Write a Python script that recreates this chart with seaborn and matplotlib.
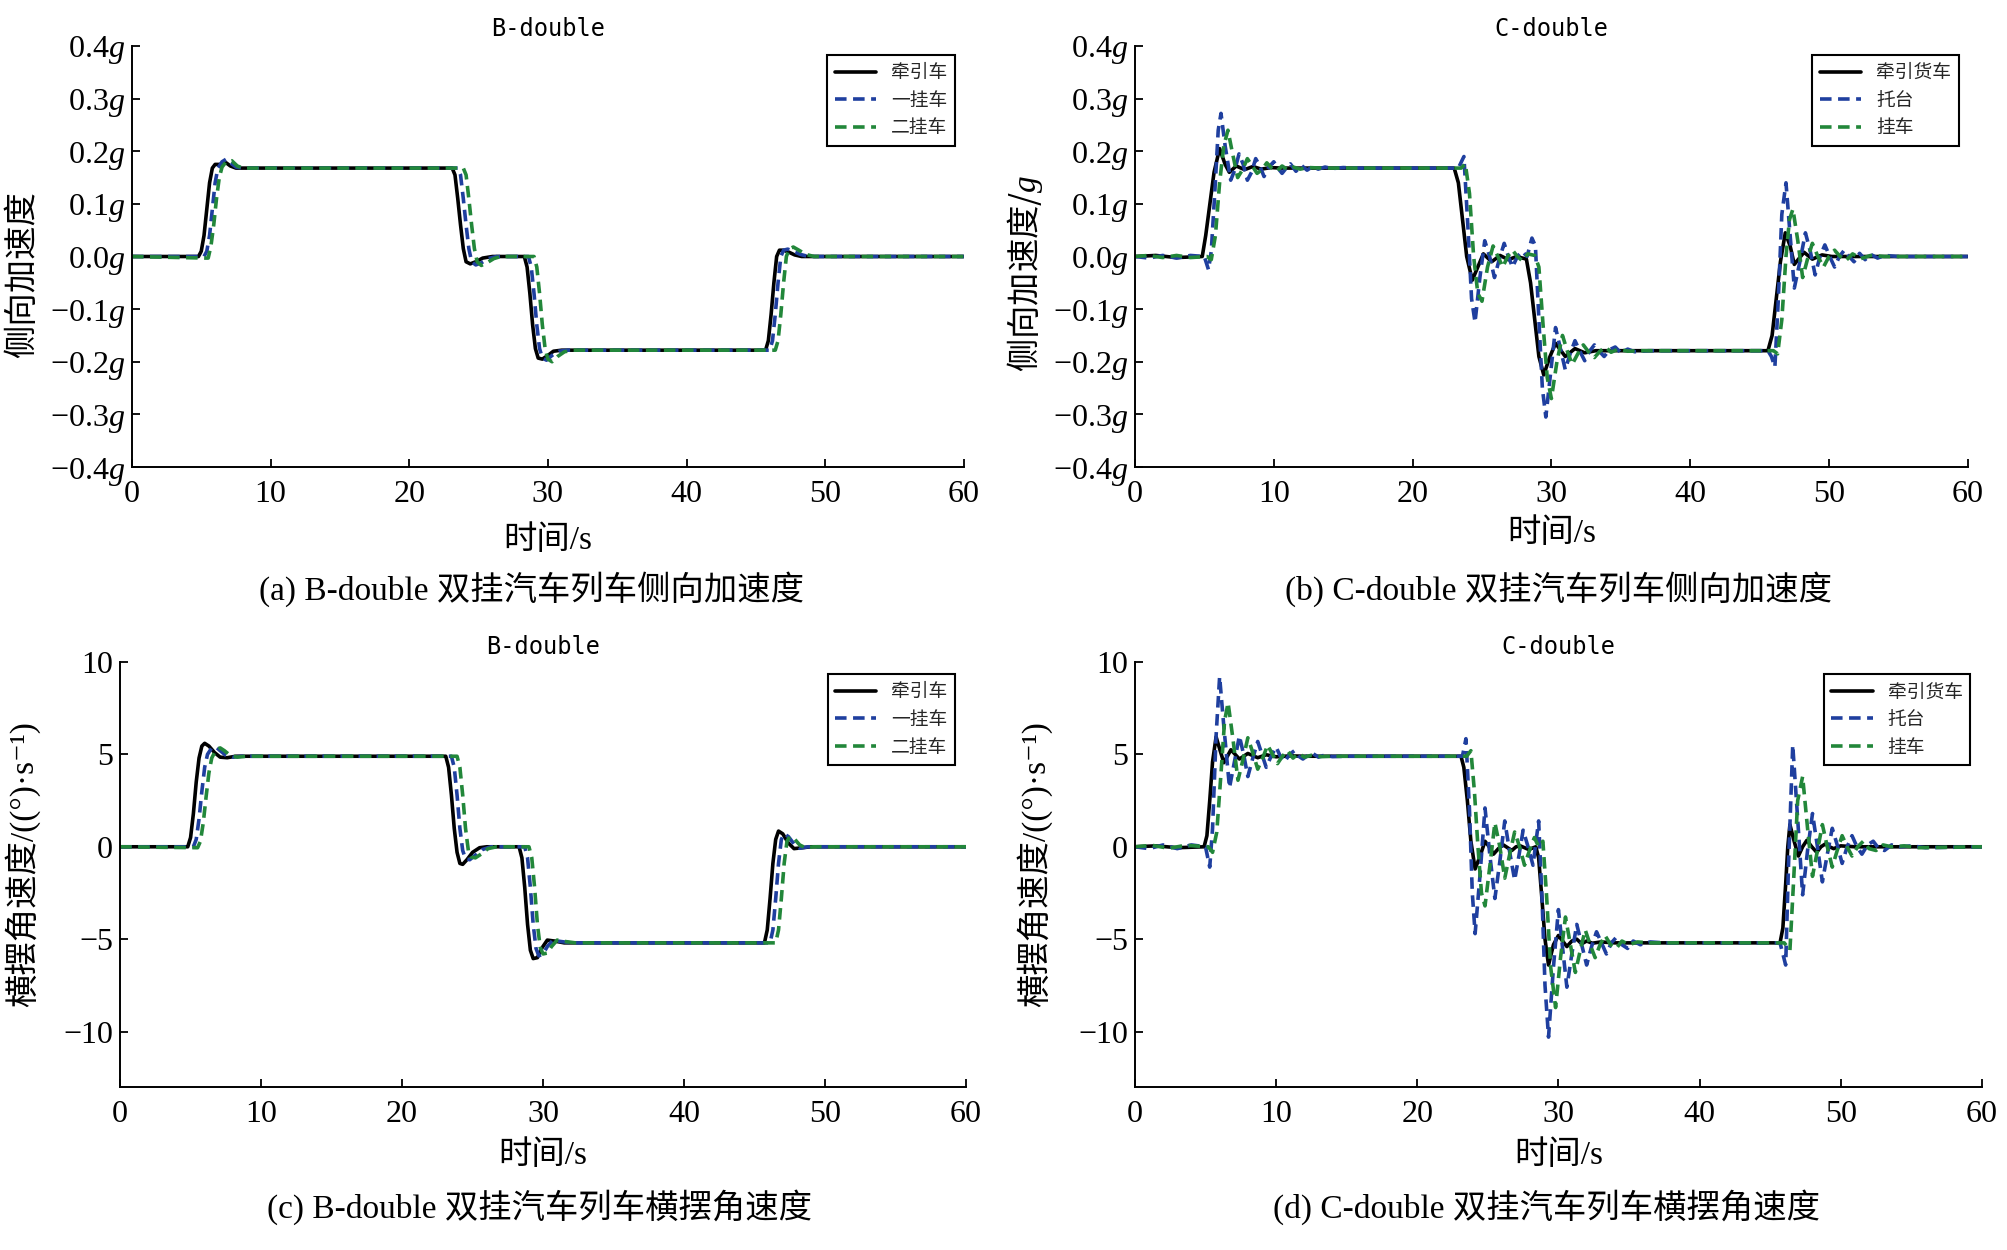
import matplotlib
matplotlib.use("Agg")
import matplotlib.pyplot as plt
import pandas as pd
import seaborn as sns
from matplotlib.font_manager import FontProperties

# ---------------- data (time s, value) ----------------
time_ticks = [0, 10, 20, 30, 40, 50, 60]
acc_ticks = [-0.4, -0.3, -0.2, -0.1, 0.0, 0.1, 0.2, 0.3, 0.4]
yaw_ticks = [-10, -5, 0, 5, 10]

labels_B = ["牵引车", "一挂车", "二挂车"]
labels_C = ["牵引货车", "托台", "挂车"]

# (a) B-double lateral acceleration [g]
A_truck = [(0,0),(4.8,0),(5.0,0.01),(5.2,0.04),(5.4,0.09),(5.6,0.14),(5.8,0.168),(6.0,0.175),(6.4,0.175),(6.8,0.178),(7.1,0.172),(7.5,0.168),(23.1,0.168),(23.3,0.155),(23.5,0.11),(23.7,0.06),(23.9,0.015),(24.1,-0.01),(24.4,-0.014),(24.8,-0.01),(25.3,-0.003),(26.0,0),(28.3,0),(28.5,-0.02),(28.7,-0.07),(28.9,-0.13),(29.1,-0.175),(29.3,-0.193),(29.6,-0.195),(30.0,-0.188),(30.4,-0.18),(31.0,-0.178),(45.7,-0.178),(45.9,-0.16),(46.1,-0.11),(46.3,-0.05),(46.5,0.0),(46.7,0.012),(47.0,0.012),(47.4,0.008),(47.8,0.003),(48.3,0),(60,0)]
A_trailer1 = [(0,0),(5.2,0),(5.4,0.01),(5.6,0.04),(5.8,0.09),(6.0,0.14),(6.2,0.168),(6.5,0.18),(6.8,0.185),(7.1,0.178),(7.5,0.17),(8.0,0.168),(23.5,0.168),(23.7,0.155),(23.9,0.11),(24.1,0.06),(24.3,0.015),(24.5,-0.01),(24.8,-0.016),(25.2,-0.012),(25.7,-0.004),(26.3,0),(28.6,0),(28.8,-0.02),(29.0,-0.07),(29.2,-0.13),(29.4,-0.175),(29.6,-0.193),(29.9,-0.197),(30.3,-0.188),(30.8,-0.18),(31.4,-0.178),(46.0,-0.178),(46.2,-0.16),(46.4,-0.11),(46.6,-0.05),(46.8,0.0),(47.0,0.012),(47.3,0.014),(47.7,0.01),(48.2,0.004),(48.8,0),(60,0)]
A_trailer2 = [(0,0),(5.3,-0.003),(5.5,-0.003),(5.7,0.02),(5.9,0.06),(6.1,0.11),(6.3,0.15),(6.5,0.17),(6.8,0.18),(7.2,0.182),(7.6,0.172),(8.0,0.168),(23.9,0.168),(24.1,0.155),(24.3,0.11),(24.5,0.06),(24.7,0.015),(24.9,-0.01),(25.2,-0.017),(25.6,-0.012),(26.1,-0.004),(26.6,0),(29.0,0),(29.2,-0.02),(29.4,-0.07),(29.6,-0.13),(29.8,-0.175),(30.0,-0.195),(30.3,-0.2),(30.7,-0.19),(31.2,-0.181),(31.8,-0.178),(46.4,-0.178),(46.6,-0.16),(46.8,-0.11),(47.0,-0.05),(47.2,0.0),(47.4,0.014),(47.7,0.018),(48.1,0.012),(48.6,0.004),(49.2,0),(60,0)]

# (b) C-double lateral acceleration [g]
B_truck = [(0,0),(1.5,0.002),(3.0,-0.002),(4.85,0),(5.1,0.04),(5.4,0.10),(5.7,0.16),(6.1,0.205),(6.5,0.175),(6.8,0.16),(7.3,0.172),(7.9,0.165),(8.5,0.171),(9.1,0.166),(9.8,0.169),(10.5,0.168),(23.0,0.168),(23.3,0.14),(23.6,0.07),(23.9,0.0),(24.3,-0.045),(24.7,-0.02),(25.1,0.005),(25.7,-0.01),(26.3,0.002),(26.9,-0.006),(27.5,0.0),(28.2,-0.005),(28.5,-0.05),(28.8,-0.12),(29.1,-0.19),(29.45,-0.225),(29.9,-0.19),(30.3,-0.165),(31.0,-0.19),(31.7,-0.175),(32.4,-0.183),(33.2,-0.179),(45.6,-0.179),(45.9,-0.15),(46.2,-0.08),(46.5,-0.01),(46.85,0.045),(47.2,0.02),(47.5,-0.015),(48.2,0.008),(48.8,-0.005),(49.5,0.003),(50.2,0),(60,0)]
B_dolly = [(0,0),(1.0,-0.003),(2.0,0.002),(3.0,-0.003),(4.0,0.002),(5.0,0),(5.3,-0.025),(5.5,0.01),(5.75,0.12),(6.0,0.24),(6.2,0.272),(6.5,0.21),(6.9,0.145),(7.2,0.165),(7.5,0.195),(7.8,0.175),(8.1,0.145),(8.4,0.16),(8.7,0.186),(9.0,0.172),(9.3,0.152),(9.65,0.17),(10.0,0.18),(10.3,0.168),(10.6,0.158),(10.9,0.168),(11.2,0.176),(11.6,0.162),(12.0,0.173),(12.4,0.164),(12.8,0.171),(13.2,0.166),(13.7,0.17),(14.2,0.167),(15.0,0.169),(16.0,0.168),(23.3,0.168),(23.7,0.19),(24.0,0.05),(24.25,-0.08),(24.5,-0.125),(24.85,-0.04),(25.2,0.03),(25.55,0.0),(25.9,-0.04),(26.25,-0.005),(26.6,0.025),(26.9,0.0),(27.2,-0.02),(27.55,0.0),(27.9,0.01),(28.25,0.0),(28.6,0.035),(28.85,0.02),(29.1,-0.12),(29.35,-0.25),(29.6,-0.305),(29.95,-0.22),(30.3,-0.135),(30.65,-0.175),(31.0,-0.215),(31.35,-0.185),(31.7,-0.16),(32.05,-0.18),(32.4,-0.198),(32.75,-0.18),(33.1,-0.168),(33.45,-0.18),(33.8,-0.19),(34.2,-0.177),(34.6,-0.172),(35.0,-0.183),(35.5,-0.176),(36.0,-0.181),(37.0,-0.179),(45.6,-0.179),(45.85,-0.19),(46.1,-0.21),(46.35,-0.08),(46.6,0.08),(46.9,0.14),(47.2,0.04),(47.5,-0.06),(47.9,-0.01),(48.3,0.045),(48.65,0.01),(49.0,-0.035),(49.35,0.0),(49.7,0.022),(50.05,0.0),(50.4,-0.02),(50.75,0.0),(51.1,0.012),(51.45,0.0),(51.8,-0.01),(52.2,0.006),(52.6,-0.006),(53.0,0.004),(53.5,-0.003),(54.0,0.002),(55.0,0),(60,0)]
B_trailer = [(0,0),(1.0,0.002),(2.0,-0.002),(3.0,0.002),(4.0,-0.002),(5.2,0),(5.5,-0.006),(5.8,0.04),(6.1,0.14),(6.4,0.21),(6.7,0.24),(7.0,0.2),(7.4,0.15),(7.75,0.165),(8.1,0.186),(8.45,0.172),(8.8,0.158),(9.15,0.165),(9.5,0.178),(9.85,0.168),(10.2,0.162),(10.6,0.172),(11.0,0.165),(11.4,0.17),(11.9,0.166),(12.5,0.169),(13.5,0.168),(23.5,0.168),(23.8,0.176),(24.1,0.12),(24.4,0.0),(24.7,-0.07),(25.0,-0.085),(25.4,-0.02),(25.8,0.02),(26.15,0.0),(26.5,-0.02),(26.85,0.0),(27.2,0.012),(27.55,0.0),(27.9,-0.008),(28.3,0.005),(28.8,0.002),(29.1,-0.02),(29.4,-0.13),(29.7,-0.23),(30.0,-0.27),(30.4,-0.2),(30.8,-0.15),(31.15,-0.18),(31.5,-0.205),(31.9,-0.185),(32.3,-0.168),(32.7,-0.182),(33.1,-0.192),(33.5,-0.18),(33.9,-0.172),(34.3,-0.182),(34.8,-0.176),(35.5,-0.18),(36.5,-0.179),(46.0,-0.179),(46.3,-0.185),(46.6,-0.12),(46.9,0.0),(47.15,0.07),(47.4,0.09),(47.75,0.03),(48.1,-0.04),(48.45,-0.005),(48.8,0.025),(49.2,0.0),(49.6,-0.02),(50.0,0.0),(50.4,0.012),(50.8,0.0),(51.2,-0.008),(51.7,0.005),(52.3,-0.004),(53.0,0.002),(54.0,0),(60,0)]

# (c) B-double yaw rate [deg/s]
C_truck = [(0,0),(4.8,0),(5.0,0.5),(5.2,1.8),(5.4,3.5),(5.6,4.8),(5.8,5.45),(6.0,5.6),(6.3,5.45),(6.7,5.1),(7.1,4.85),(7.6,4.82),(8.2,4.9),(23.1,4.9),(23.3,4.3),(23.5,2.8),(23.7,1.0),(23.9,-0.3),(24.1,-0.9),(24.3,-0.95),(24.6,-0.7),(25.0,-0.3),(25.5,-0.05),(26.0,0),(28.3,0),(28.5,-0.6),(28.7,-2.2),(28.9,-4.2),(29.1,-5.6),(29.3,-6.05),(29.6,-6.0),(29.9,-5.5),(30.3,-5.05),(30.8,-5.1),(31.5,-5.2),(45.7,-5.2),(45.9,-4.5),(46.1,-2.8),(46.3,-0.9),(46.5,0.4),(46.7,0.85),(47.0,0.7),(47.4,0.2),(47.8,-0.1),(48.4,-0.05),(49.0,0),(60,0)]
C_trailer1 = [(0,0),(5.2,0),(5.4,0.4),(5.6,1.5),(5.8,3.0),(6.0,4.3),(6.2,5.0),(6.5,5.35),(6.8,5.4),(7.1,5.2),(7.5,4.95),(8.0,4.85),(8.6,4.9),(23.5,4.9),(23.7,4.3),(23.9,2.8),(24.1,1.0),(24.3,-0.2),(24.5,-0.65),(24.8,-0.7),(25.2,-0.45),(25.7,-0.15),(26.3,0),(28.7,0),(28.9,-0.6),(29.1,-2.2),(29.3,-4.2),(29.5,-5.5),(29.7,-5.9),(30.0,-5.8),(30.3,-5.4),(30.7,-5.05),(31.2,-5.12),(32.0,-5.2),(46.1,-5.2),(46.3,-4.5),(46.5,-2.8),(46.7,-0.9),(46.9,0.4),(47.1,0.7),(47.4,0.55),(47.8,0.15),(48.2,-0.08),(48.8,0),(60,0)]
C_trailer2 = [(0,0),(5.5,-0.05),(5.7,0.3),(5.9,1.3),(6.1,2.7),(6.3,4.0),(6.5,4.8),(6.8,5.25),(7.1,5.35),(7.4,5.2),(7.8,4.95),(8.3,4.85),(9.0,4.9),(23.9,4.9),(24.1,4.3),(24.3,2.8),(24.5,1.0),(24.7,-0.2),(24.9,-0.55),(25.2,-0.6),(25.6,-0.4),(26.1,-0.1),(26.7,0),(29.0,0),(29.2,-0.6),(29.4,-2.2),(29.6,-4.2),(29.8,-5.45),(30.0,-5.8),(30.3,-5.75),(30.6,-5.4),(31.0,-5.05),(31.5,-5.12),(32.3,-5.2),(46.5,-5.2),(46.7,-4.5),(46.9,-2.8),(47.1,-0.9),(47.3,0.3),(47.5,0.55),(47.8,0.45),(48.2,0.1),(48.6,-0.05),(49.2,0),(60,0)]

# (d) C-double yaw rate [deg/s]
D_truck = [(0,0),(1.5,0.05),(3.0,-0.05),(4.9,0),(5.1,0.6),(5.3,2.5),(5.5,4.6),(5.75,5.95),(6.0,5.3),(6.3,4.55),(6.8,5.25),(7.4,4.75),(8.0,5.05),(8.7,4.82),(9.3,4.98),(10.0,4.87),(11.0,4.92),(12.0,4.9),(23.1,4.9),(23.3,4.3),(23.55,2.5),(23.8,0.3),(24.1,-1.2),(24.45,-0.5),(24.8,0.3),(25.1,0.0),(25.4,-0.4),(25.75,-0.1),(26.1,0.1),(26.4,-0.05),(26.7,-0.2),(27.0,0.0),(27.3,0.05),(27.6,-0.05),(27.9,-0.15),(28.4,0.0),(28.6,-0.6),(28.8,-2.5),(29.05,-5.0),(29.3,-6.4),(29.65,-5.3),(30.0,-4.8),(30.3,-5.1),(30.6,-5.4),(30.95,-5.1),(31.3,-5.0),(31.65,-5.25),(32.0,-5.1),(32.4,-5.22),(33.0,-5.15),(34.0,-5.2),(45.7,-5.2),(45.9,-4.4),(46.1,-2.0),(46.25,0.0),(46.4,1.2),(46.7,0.3),(47.0,-0.5),(47.3,0.0),(47.6,0.35),(47.95,0.0),(48.3,-0.3),(48.6,0.0),(48.9,0.15),(49.2,0.0),(49.5,-0.1),(50.0,0.05),(51.0,0),(60,0)]
D_dolly = [(0,0),(1.0,-0.1),(2.0,0.1),(3.0,-0.1),(4.0,0.1),(5.0,0),(5.3,-1.1),(5.5,1.0),(5.75,6.0),(6.0,9.2),(6.3,6.5),(6.7,3.2),(7.05,4.6),(7.4,6.0),(7.7,5.0),(8.0,3.8),(8.35,4.8),(8.7,5.7),(9.0,5.0),(9.3,4.3),(9.65,4.9),(10.0,5.4),(10.3,4.9),(10.6,4.6),(10.95,5.0),(11.3,5.2),(11.6,4.9),(11.9,4.75),(12.25,4.95),(12.6,5.05),(13.0,4.85),(13.4,4.95),(14.0,4.88),(15.0,4.9),(23.2,4.9),(23.45,5.85),(23.7,2.0),(23.9,-2.5),(24.1,-4.7),(24.45,-1.5),(24.8,2.1),(25.15,-0.5),(25.5,-2.8),(25.85,-0.8),(26.2,1.4),(26.55,-0.3),(26.9,-1.8),(27.2,-0.5),(27.5,0.9),(27.85,0.0),(28.2,-1.0),(28.6,1.4),(28.85,-3.0),(29.05,-7.5),(29.3,-10.3),(29.65,-6.5),(30.0,-3.4),(30.3,-5.5),(30.6,-7.6),(30.95,-5.8),(31.3,-4.2),(31.65,-5.3),(32.0,-6.4),(32.35,-5.4),(32.7,-4.6),(33.05,-5.2),(33.4,-5.8),(33.75,-5.2),(34.1,-4.9),(34.5,-5.3),(34.9,-5.5),(35.3,-5.1),(35.8,-5.3),(36.5,-5.15),(37.5,-5.2),(45.7,-5.2),(45.9,-5.8),(46.1,-6.4),(46.3,-1.0),(46.6,5.5),(46.95,1.5),(47.3,-2.6),(47.65,-0.2),(48.0,1.8),(48.35,0.0),(48.7,-1.9),(49.05,-0.4),(49.4,1.0),(49.75,0.1),(50.1,-0.9),(50.45,0.0),(50.8,0.6),(51.15,0.0),(51.5,-0.4),(51.9,0.1),(52.3,0.3),(52.7,-0.1),(53.1,-0.2),(53.6,0.1),(54.2,0.0),(55.0,0.05),(56.0,-0.05),(60,0)]
D_trailer = [(0,0),(1.2,0.08),(2.4,-0.08),(3.6,0.08),(5.2,0),(5.5,-0.3),(5.8,0.8),(6.1,4.0),(6.35,6.8),(6.6,7.8),(6.95,5.8),(7.3,3.6),(7.65,4.7),(8.0,5.9),(8.35,5.1),(8.7,4.2),(9.05,4.8),(9.4,5.5),(9.75,5.0),(10.1,4.5),(10.45,4.9),(10.8,5.2),(11.2,4.8),(11.6,5.05),(12.0,4.85),(12.5,4.95),(13.2,4.88),(14.0,4.9),(23.5,4.9),(23.8,5.2),(24.05,3.0),(24.3,0.0),(24.55,-2.5),(24.8,-3.2),(25.15,-1.0),(25.5,1.3),(25.85,0.0),(26.2,-1.7),(26.55,-0.4),(26.9,0.8),(27.25,0.0),(27.6,-1.0),(27.95,-0.2),(28.3,0.5),(28.6,0.0),(28.9,0.3),(29.15,-2.5),(29.45,-6.5),(29.8,-8.7),(30.15,-6.0),(30.5,-3.8),(30.85,-5.3),(31.2,-6.8),(31.55,-5.6),(31.9,-4.5),(32.25,-5.3),(32.6,-6.0),(32.95,-5.3),(33.3,-4.8),(33.7,-5.3),(34.1,-5.5),(34.5,-5.1),(35.0,-5.3),(35.6,-5.15),(36.5,-5.2),(46.0,-5.2),(46.2,-5.4),(46.4,-5.6),(46.65,-2.0),(46.95,2.5),(47.3,3.8),(47.65,1.0),(48.0,-1.6),(48.35,-0.2),(48.7,1.2),(49.05,0.0),(49.4,-1.1),(49.75,-0.2),(50.1,0.6),(50.45,0.0),(50.8,-0.5),(51.2,0.0),(51.6,0.3),(52.0,-0.1),(52.5,-0.2),(53.0,0.1),(53.6,0.0),(54.5,0.05),(55.5,-0.05),(60,0)]

# ---------------- style ----------------
sns.set_theme(style="ticks")
plt.rcParams["font.family"] = ["Liberation Serif", "Noto Sans CJK SC", "DejaVu Sans"]
plt.rcParams["mathtext.fontset"] = "custom"
plt.rcParams["mathtext.rm"] = "Liberation Serif"
plt.rcParams["mathtext.it"] = "Liberation Serif:italic"
plt.rcParams["axes.unicode_minus"] = True

COLORS = ["#000000", "#1f3f9f", "#22873a"]
STYLES = ["-", (0, (3.2, 1.8)), (0, (3.2, 1.8))]
LW = 2.6
TICK_FS = 23
LAB_FS = 24
SERIF_CJK = ["Liberation Serif", "Noto Sans CJK SC", "DejaVu Sans"]

fig = plt.figure(figsize=(20.08, 12.5), dpi=100)

def tick_text(v, with_g):
    if with_g:
        return f"{v:.1f}".replace("-", "\u2212") + "$\\mathit{g}$"
    return f"{v:g}".replace("-", "\u2212")

panels = [
    dict(rect=[0.0657, 0.6264, 0.4143, 0.3368], series=[A_truck, A_trailer1, A_trailer2], labels=labels_B,
         ylim=(-0.4, 0.4), yticks=acc_ticks, g=True, ylabel="侧向加速度", ylab_family=SERIF_CJK,
         ylab_xy=(-0.111, 0.456), xlab_y=-0.138, title="B-double", title_y=1.04, leg=(0.989, 0.979),
         caption="(a) B-double 双挂汽车列车侧向加速度", cap_xy=(0.2646, 0.5288)),
    dict(rect=[0.5652, 0.6264, 0.4148, 0.3368], series=[B_truck, B_dolly, B_trailer], labels=labels_C,
         ylim=(-0.4, 0.4), yticks=acc_ticks, g=True, ylabel="侧向加速度/$\\mathit{g}$", ylab_family="Noto Sans CJK SC",
         ylab_xy=(-0.108, 0.461), xlab_y=-0.122, title="C-double", title_y=1.04, leg=(0.989, 0.979),
         caption="(b) C-double 双挂汽车列车侧向加速度", cap_xy=(0.776, 0.5288)),
    dict(rect=[0.0598, 0.1304, 0.4213, 0.34], series=[C_truck, C_trailer1, C_trailer2], labels=labels_B,
         ylim=(-13, 10), yticks=yaw_ticks, g=False, ylabel="横摆角速度/((°)·s\u207b\u00b9)", ylab_family=SERIF_CJK,
         ylab_xy=(-0.095, 0.525), xlab_y=-0.125, title="B-double", title_y=1.036, leg=(0.987, 0.972),
         caption="(c) B-double 双挂汽车列车横摆角速度", cap_xy=(0.2685, 0.0344)),
    dict(rect=[0.5652, 0.1304, 0.4218, 0.34], series=[D_truck, D_dolly, D_trailer], labels=labels_C,
         ylim=(-13, 10), yticks=yaw_ticks, g=False, ylabel="横摆角速度/((°)·s\u207b\u00b9)", ylab_family=SERIF_CJK,
         ylab_xy=(-0.098, 0.525), xlab_y=-0.125, title="C-double", title_y=1.036, leg=(0.986, 0.972),
         caption="(d) C-double 双挂汽车列车横摆角速度", cap_xy=(0.7704, 0.0344)),
]

for p in panels:
    ax = fig.add_axes(p["rect"])
    for data, lab, col, ls in zip(p["series"], p["labels"], COLORS, STYLES):
        df = pd.DataFrame(data, columns=["t", "v"])
        sns.lineplot(data=df, x="t", y="v", ax=ax, color=col, linestyle=ls, linewidth=LW,
                     label=lab, estimator=None, sort=False)
    ax.set_xlim(0, 60)
    ax.set_ylim(*p["ylim"])
    ax.set_xticks(time_ticks)
    ax.set_xticklabels([str(v) for v in time_ticks])
    ax.set_yticks(p["yticks"])
    ax.set_yticklabels([tick_text(v, p["g"]) for v in p["yticks"]])
    sns.despine(ax=ax)
    for s in ("left", "bottom"):
        ax.spines[s].set_linewidth(1.4)
        ax.spines[s].set_color("black")
    ax.tick_params(axis="both", direction="in", length=6, width=1.3, colors="black", labelsize=TICK_FS)
    ax.tick_params(axis="x", pad=9)
    ax.tick_params(axis="y", pad=5)
    for lbl in ax.get_xticklabels() + ax.get_yticklabels():
        lbl.set_fontfamily("Liberation Serif")
    ax.set_xlabel("时间/s", fontsize=LAB_FS, family=SERIF_CJK, color="black")
    ax.xaxis.set_label_coords(0.5, p["xlab_y"])
    ax.set_ylabel(p["ylabel"], fontsize=LAB_FS, family=p["ylab_family"], color="black")
    ax.yaxis.set_label_coords(*p["ylab_xy"])
    ax.text(0.5, p["title_y"], p["title"], transform=ax.transAxes, ha="center", va="center",
            fontsize=17, family="DejaVu Sans Mono", color="black")
    handles, labs = ax.get_legend_handles_labels()
    leg = ax.legend(handles[:3], labs[:3], loc="upper right", bbox_to_anchor=p["leg"],
                    prop=FontProperties(family="Noto Sans CJK SC", size=13.5),
                    frameon=True, fancybox=False, edgecolor="black", framealpha=1,
                    borderpad=0.4, labelspacing=0.35, handlelength=2.2, handletextpad=0.8,
                    borderaxespad=0.0)
    leg.get_frame().set_linewidth(1.5)
    fig.text(p["cap_xy"][0], p["cap_xy"][1], p["caption"], ha="center", va="center",
             fontsize=LAB_FS, family=SERIF_CJK, color="black")

fig.savefig("out.png", dpi=100, facecolor="white")
